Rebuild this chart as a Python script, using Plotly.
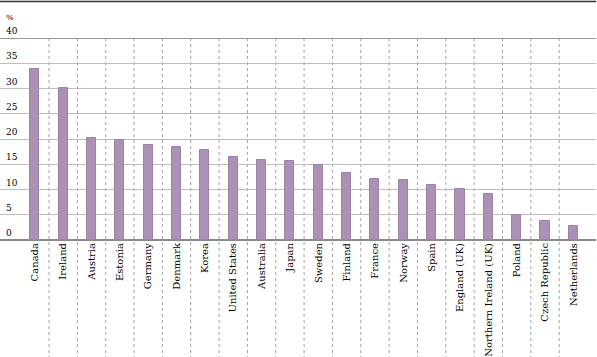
import plotly.graph_objects as go

countries = ["Canada", "Ireland", "Austria", "Estonia", "Germany", "Denmark", "Korea",
             "United States", "Australia", "Japan", "Sweden", "Finland", "France", "Norway",
             "Spain", "England (UK)", "Northern Ireland (UK)", "Poland", "Czech Republic",
             "Netherlands"]
values = [33.9, 30.1, 20.1, 19.8, 18.8, 18.4, 17.9, 16.4, 15.8, 15.7, 14.9, 13.2, 12.0,
          11.9, 10.9, 10.1, 9.1, 4.9, 3.7, 2.7]
y_ticks = [0, 5, 10, 15, 20, 25, 30, 35, 40]

W, H = 597, 357
mt, mb, ml, mr = 38, 117, 0, 1
ph = H - mt - mb

FONT = "DejaVu Serif"

fig = go.Figure()
fig.add_trace(go.Bar(
    x=list(range(len(countries))), y=values,
    width=0.32,
    marker=dict(color="#AB91B6", line=dict(color="#9C82A8", width=1)),
))

shapes = []
for i in range(len(countries) - 1):
    shapes.append(dict(type="line", xref="x", yref="paper", x0=i + 0.5, x1=i + 0.5,
                       y0=1, y1=-mb / ph, line=dict(color="#a0a0a0", width=1, dash="dot"),
                       layer="below"))
shapes.append(dict(type="line", xref="paper", yref="y", x0=0, x1=1, y0=40, y1=40,
                   line=dict(color="#9a9a9a", width=2)))
shapes.append(dict(type="line", xref="paper", yref="paper", x0=0, x1=1,
                   y0=1 + (mt - 1.5) / ph, y1=1 + (mt - 1.5) / ph,
                   line=dict(color="#333333", width=1.5)))
fig.update_layout(shapes=shapes)

for v in y_ticks:
    fig.add_annotation(text=str(v), xref="paper", yref="y", x=0.006, y=v,
                       xanchor="left", yanchor="bottom", yshift=0, showarrow=False,
                       font=dict(family=FONT, size=9, color="#000"))

fig.add_annotation(text="%", xref="paper", yref="paper", x=0.006, y=1 + (mt - 18) / ph,
                   xanchor="left", yanchor="middle", showarrow=False,
                   font=dict(family=FONT, size=8, color="#000"))

fig.update_layout(
    width=W, height=H,
    margin=dict(t=mt, b=mb, l=ml, r=mr, pad=0, autoexpand=False),
    paper_bgcolor="white", plot_bgcolor="white",
    showlegend=False,
    font=dict(family=FONT, size=10, color="#000"),
    xaxis=dict(
        range=[-1.23, 19.8], automargin=False,
        tickmode="array", tickvals=list(range(len(countries))), ticktext=countries,
        tickangle=-90, showgrid=False, zeroline=False, showline=False, ticks="",
        tickfont=dict(family=FONT, size=10, color="#000"),
    ),
    yaxis=dict(
        range=[0, 40], tickmode="array", tickvals=y_ticks, automargin=False,
        showgrid=True, gridcolor="#bdbdbd", gridwidth=1,
        zeroline=True, zerolinecolor="#8a8a8a", zerolinewidth=2,
        showticklabels=False, ticks="", showline=False,
    ),
    bargap=0,
)

fig.write_html("out.html")
